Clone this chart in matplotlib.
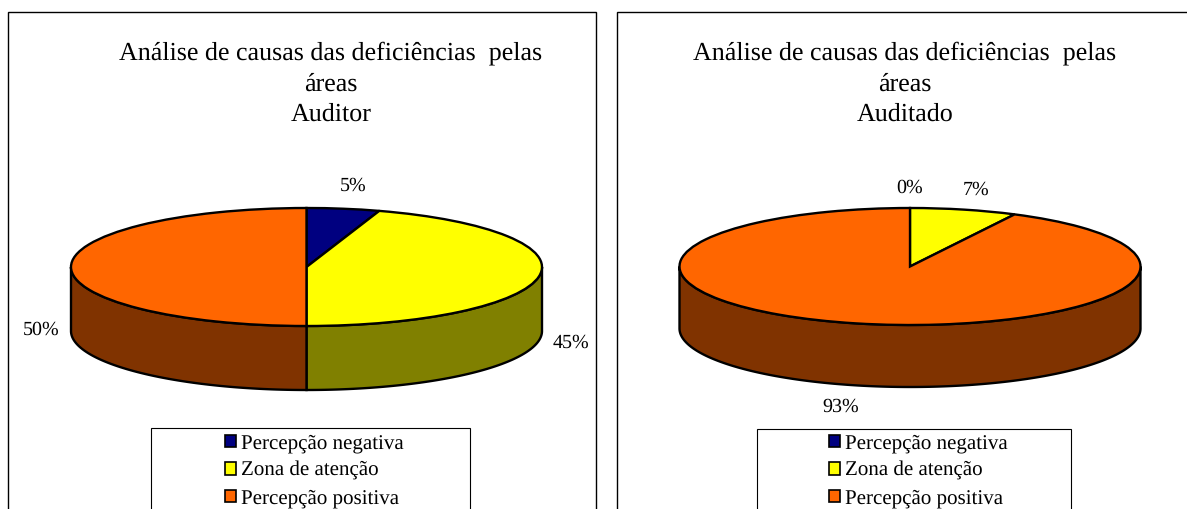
import numpy as np
import matplotlib
matplotlib.use('Agg')
import matplotlib.pyplot as plt
from matplotlib.patches import Patch, Rectangle

W, H = 1187, 509

categories = ["Percepção negativa", "Zona de atenção", "Percepção positiva"]
auditor_values = [5, 45, 50]
auditor_labels = ["5%", "45%", "50%"]
auditado_values = [0, 7.5, 92.5]
auditado_labels = ["0%", "7%", "93%"]

top_colors = ["#000080", "#FFFF00", "#FF6600"]
side_colors = ["#000040", "#808000", "#803300"]

plt.rcParams['font.family'] = ['Liberation Serif', 'DejaVu Serif']
plt.rcParams['text.hinting'] = 'no_hinting'
plt.rcParams['text.hinting_factor'] = 1

fig = plt.figure(figsize=(W / 100, H / 100), dpi=100, facecolor='white')


def px(x, y):
    return x / W, 1 - y / H


def draw_panel(frame, title, title_x, values, labels, label_pos, cx, cy, rx, ry, depth, legend_box, legend_x):
    fig.add_artist(Rectangle(px(frame[0], frame[1] + frame[3]), frame[2] / W, frame[3] / H,
                             transform=fig.transFigure, fc='white', ec='black', lw=1.0, zorder=-2))
    fig.text(*px(title_x, 84), title, ha='center', va='center', fontsize=18.7, linespacing=1.39)

    # axes runs from the top of the ellipse down to the bottom of the side wall
    left, top = px(cx - rx, cy - ry)
    ax = fig.add_axes([left, 1 - (cy + ry + depth) / H, 2 * rx / W, (2 * ry + depth) / H])
    ax.patch.set_alpha(0)

    wedges, _ = ax.pie(values, colors=top_colors, startangle=90, counterclock=False, radius=1,
                       wedgeprops=dict(edgecolor='black', linewidth=1.7, zorder=3))
    ax.set_aspect('auto')
    ax.set_xlim(-1, 1)
    h = depth / ry
    ax.set_ylim(-1 - h, 1)

    # side wall, only the front half of the pie shows
    edges = 2 * np.pi * np.cumsum([0] + list(values)) / sum(values)
    for i in range(len(values)):
        a0 = max(edges[i], np.pi / 2)
        a1 = min(edges[i + 1], 3 * np.pi / 2)
        if a1 <= a0:
            continue
        t = np.linspace(a0, a1, 200)
        x = np.sin(t)
        y = np.cos(t)
        ax.fill(np.r_[x, x[::-1]], np.r_[y, y[::-1] - h], fc=side_colors[i], ec='black', lw=1.7,
                zorder=1, clip_on=False)

    for w in wedges:
        w.set_clip_on(False)

    for txt, (x, y) in zip(labels, label_pos):
        fig.text(*px(x, y), txt, ha='center', va='center', fontsize=14.5)

    # legend box runs off the bottom of the image
    fig.add_artist(Rectangle(px(legend_box[0], legend_box[1] + legend_box[3]), legend_box[2] / W, legend_box[3] / H,
                             transform=fig.transFigure, fc='white', ec='black', lw=0.8, zorder=-1))
    handles = [Patch(fc=c, ec='black', lw=1.2) for c in top_colors]
    leg = fig.legend(handles, categories, loc='upper left', bbox_to_anchor=px(legend_x, 434), frameon=False,
                     fontsize=15, handlelength=0.55, handleheight=0.55, handletextpad=0.22,
                     labelspacing=0.4, borderpad=0, borderaxespad=0)
    leg.set_zorder(5)


draw_panel((8, 12, 588, 520),
           "Análise de causas das deficiências  pelas\náreas\nAuditor", 331,
           auditor_values, auditor_labels, [(353, 186), (571, 343), (41, 330)],
           306.5, 267, 235.5, 59, 64, (151.5, 427.5, 318, 100), 225)

draw_panel((617, 12, 588, 520),
           "Análise de causas das deficiências  pelas\náreas\nAuditado", 905,
           auditado_values, auditado_labels, [(910, 188), (976, 190), (841, 407)],
           910, 266.5, 230.5, 58.5, 62, (757, 428.5, 314, 100), 829)

fig.savefig('out.png', dpi=100)
